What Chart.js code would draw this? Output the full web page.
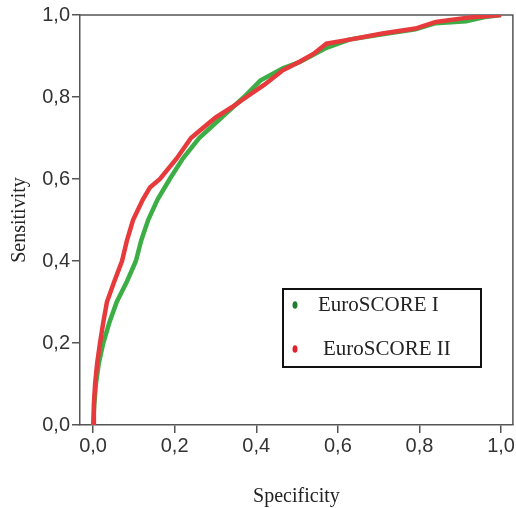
<!DOCTYPE html>
<html>
<head>
<meta charset="utf-8">
<script src="https://cdn.jsdelivr.net/npm/chart.js@4.4.0/dist/chart.umd.min.js"></script>
<style>
  html, body { margin: 0; padding: 0; background: #fff; }
  #wrap { width: 516px; height: 508px; }
</style>
</head>
<body>
<div id="wrap"><canvas id="roc"></canvas></div>
<script>
// curvas ROC de los dos modelos
const seriesNames = ['EuroSCORE I', 'EuroSCORE II'];
const seriesColors = ['#3cae45', '#e63a3c'];
const markerColors = ['#1f7d32', '#e3202c'];

const euro1X = [0, 0.003, 0.007, 0.014, 0.025, 0.040, 0.058, 0.083, 0.105, 0.118, 0.135, 0.158, 0.188, 0.220, 0.260, 0.315, 0.370, 0.410, 0.465, 0.506, 0.572, 0.628, 0.709, 0.790, 0.840, 0.914, 0.960, 1.0];
const euro1Y = [0, 0.05, 0.10, 0.15, 0.20, 0.25, 0.30, 0.35, 0.40, 0.45, 0.50, 0.55, 0.60, 0.65, 0.70, 0.75, 0.80, 0.84, 0.87, 0.885, 0.92, 0.94, 0.953, 0.965, 0.98, 0.985, 0.995, 1.0];

const euro2X = [0, 0.002, 0.005, 0.010, 0.017, 0.025, 0.034, 0.052, 0.071, 0.083, 0.098, 0.122, 0.140, 0.164, 0.180, 0.205, 0.240, 0.270, 0.300, 0.340, 0.376, 0.420, 0.465, 0.506, 0.540, 0.572, 0.628, 0.709, 0.790, 0.840, 0.914, 1.0];
const euro2Y = [0, 0.05, 0.10, 0.15, 0.20, 0.25, 0.30, 0.35, 0.40, 0.45, 0.50, 0.55, 0.58, 0.60, 0.62, 0.65, 0.70, 0.725, 0.75, 0.775, 0.80, 0.83, 0.865, 0.886, 0.905, 0.93, 0.94, 0.955, 0.967, 0.983, 0.993, 1.0];

const axisTicks = [0, 0.2, 0.4, 0.6, 0.8, 1.0];

function toPoints(xs, ys) {
  return xs.map((x, i) => ({ x: x, y: ys[i] }));
}

function fmt(v) {
  return v.toFixed(1).replace('.', ',');
}

// marco superior y derecho
const framePlugin = {
  id: 'frame',
  beforeDatasetsDraw(chart) {
    const { ctx, chartArea: a } = chart;
    ctx.save();
    ctx.strokeStyle = '#555';
    ctx.lineWidth = 1.5;
    ctx.beginPath();
    ctx.moveTo(a.left, a.top);
    ctx.lineTo(a.right, a.top);
    ctx.lineTo(a.right, a.bottom);
    ctx.stroke();
    ctx.restore();
  }
};

// leyenda dentro del area del grafico
const boxLegend = {
  id: 'boxLegend',
  afterDraw(chart) {
    const ctx = chart.ctx;
    const x = 283, y = 289, w = 198, h = 78;
    ctx.save();
    ctx.fillStyle = '#fff';
    ctx.fillRect(x, y, w, h);
    ctx.strokeStyle = '#111';
    ctx.lineWidth = 2;
    ctx.strokeRect(x, y, w, h);
    ctx.font = '21px "Liberation Serif", "Times New Roman", serif';
    ctx.textBaseline = 'middle';
    const rows = [
      { cy: 305, tx: 318 },
      { cy: 349, tx: 323 }
    ];
    seriesNames.forEach((name, i) => {
      const r = rows[i];
      ctx.fillStyle = markerColors[i];
      ctx.beginPath();
      ctx.ellipse(295, r.cy, 2.5, 3.8, 0, 0, Math.PI * 2);
      ctx.fill();
      ctx.fillStyle = '#222';
      ctx.fillText(name, r.tx, r.cy);
    });
    ctx.restore();
  }
};

document.addEventListener('DOMContentLoaded', () => {
  const ctx = document.getElementById('roc').getContext('2d');
  const tickFont = { family: '"Liberation Sans", Arial, sans-serif', size: 20 };
  const titleFont = { family: '"Liberation Serif", "Times New Roman", serif', size: 20, lineHeight: 1 };

  new Chart(ctx, {
    type: 'scatter',
    data: {
      datasets: [
        {
          label: seriesNames[0],
          data: toPoints(euro1X, euro1Y),
          borderColor: seriesColors[0],
          backgroundColor: seriesColors[0],
          borderWidth: 4.5,
          showLine: true,
          pointRadius: 0,
          tension: 0,
          order: 2
        },
        {
          label: seriesNames[1],
          data: toPoints(euro2X, euro2Y),
          borderColor: seriesColors[1],
          backgroundColor: seriesColors[1],
          borderWidth: 4.5,
          showLine: true,
          pointRadius: 0,
          tension: 0,
          order: 1
        }
      ]
    },
    options: {
      responsive: true,
      maintainAspectRatio: false,
      animation: false,
      layout: { padding: { top: 15, right: 2, left: 0, bottom: 0 } },
      plugins: {
        legend: { display: false },
        tooltip: { enabled: false }
      },
      scales: {
        x: {
          type: 'linear',
          min: -0.032,
          max: 1.029,
          afterBuildTicks: s => { s.ticks = axisTicks.map(v => ({ value: v })); },
          afterFit: s => { s.height = 83; },
          grid: { drawOnChartArea: false, drawTicks: true, tickLength: 8, color: '#555', lineWidth: 1.5 },
          border: { display: true, color: '#555', width: 1.5 },
          ticks: { font: tickFont, color: '#333', padding: 1, maxRotation: 0, callback: v => fmt(v) },
          title: { display: true, text: 'Specificity', font: titleFont, color: '#222', padding: { top: 0, bottom: 1 } }
        },
        y: {
          type: 'linear',
          min: 0,
          max: 1,
          afterBuildTicks: s => { s.ticks = axisTicks.map(v => ({ value: v })); },
          afterFit: s => { s.width = 80; },
          grid: { drawOnChartArea: false, drawTicks: true, tickLength: 8, color: '#555', lineWidth: 1.5 },
          border: { display: true, color: '#555', width: 1.5 },
          ticks: { font: tickFont, color: '#333', padding: 2, callback: v => fmt(v) },
          title: { display: true, text: 'Sensitivity', font: titleFont, color: '#222', padding: { top: 10, bottom: 0 } }
        }
      }
    },
    plugins: [framePlugin, boxLegend]
  });
});
</script>
</body>
</html>
